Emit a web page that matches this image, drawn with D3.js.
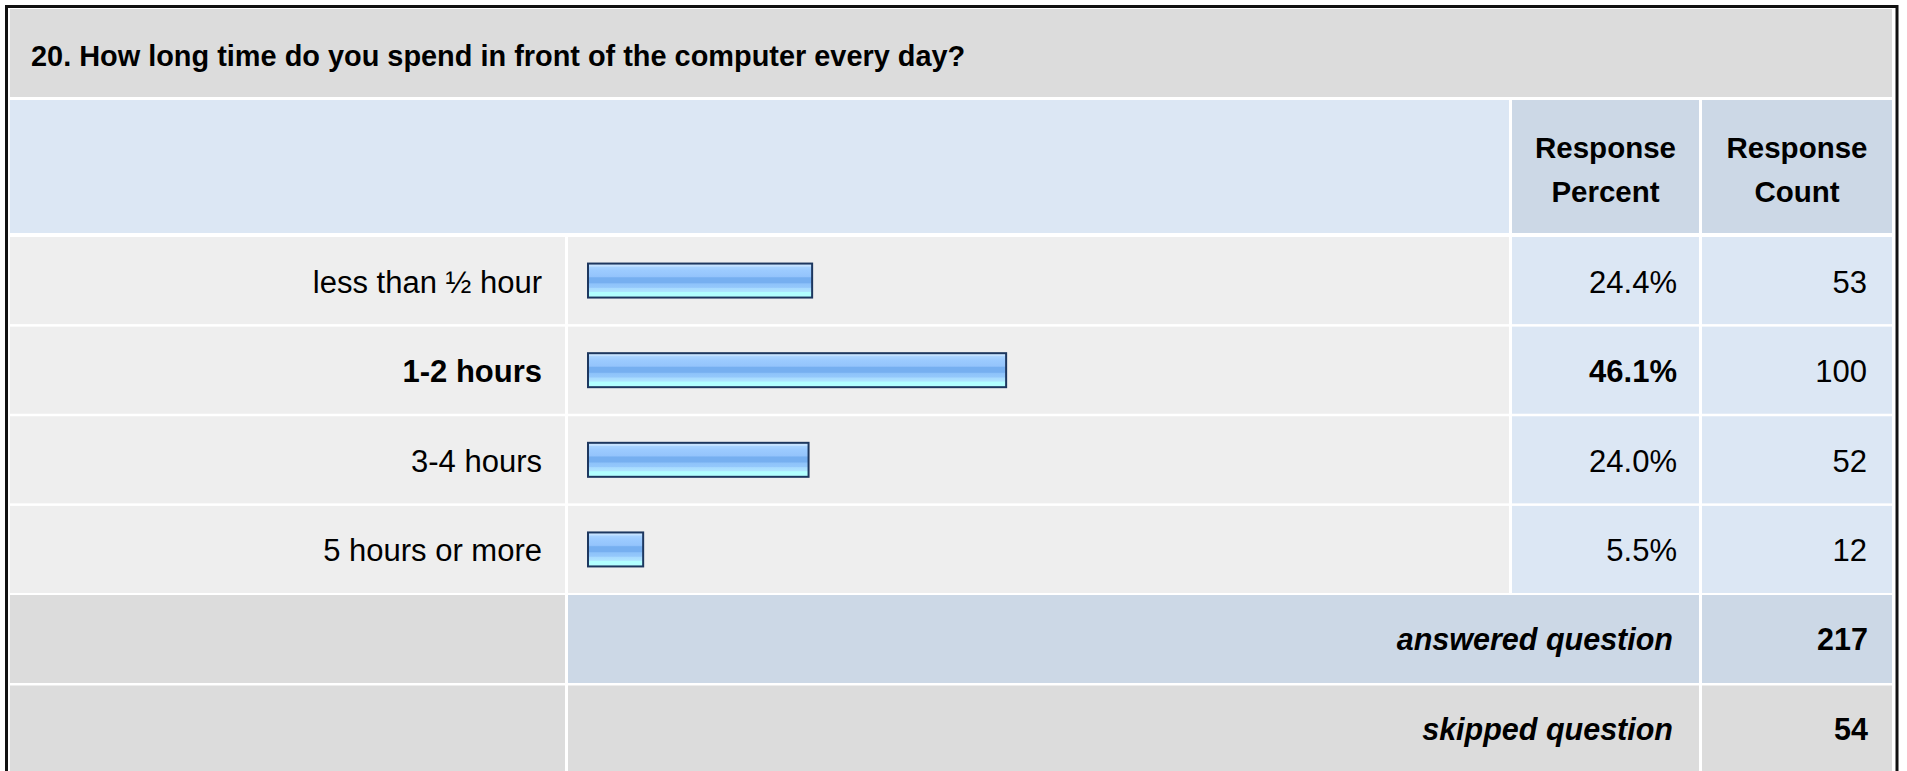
<!DOCTYPE html>
<html>
<head>
<meta charset="utf-8">
<script src="https://d3js.org/d3.v7.min.js"></script>
<style>
body { margin: 0; background: #ffffff; }
svg text { font-family: "Liberation Sans", Arial, sans-serif; fill: #000; }
</style>
</head>
<body>
<script>
var title = "20. How long time do you spend in front of the computer every day?";
var categories = ["less than ½ hour", "1-2 hours", "3-4 hours", "5 hours or more"];
var percents = [24.4, 46.1, 24.0, 5.5];
var counts = [53, 100, 52, 12];
var headerLines = [["Response", "Percent"], ["Response", "Count"]];
var footerLabels = ["answered question", "skipped question"];
var footerCounts = [217, 54];

var svgW = 1907;
var svgH = 771;
var fontSize = 31;

// columns (left, right)
var colLabel = [10, 565];
var colBar = [568, 1509];
var colPct = [1512, 1699];
var colCount = [1702, 1892];

var grey = "#dcdcdc";
var light = "#eeeeee";
var blue = "#dce7f4";
var blueGrey = "#ccd8e6";

var svg = d3.select("body")
    .append("svg")
    .attr("width", svgW)
    .attr("height", svgH);

//Gradient for the bars
var grad = svg.append("defs")
    .append("linearGradient")
    .attr("id", "barGrad")
    .attr("x1", 0).attr("y1", 0)
    .attr("x2", 0).attr("y2", 1);
var stops = [
    [0.00, "#cde8ff"], [0.08, "#c2e0ff"], [0.10, "#a8d3ff"], [0.20, "#9ccbff"],
    [0.38, "#94c4fc"], [0.42, "#76aff0"], [0.56, "#76aff0"], [0.60, "#8ec3fa"],
    [0.70, "#94c8fb"], [0.73, "#a8dbff"], [0.82, "#aee4ff"], [0.85, "#b2ffff"],
    [1.00, "#b2ffff"]
];
grad.selectAll("stop")
    .data(stops)
    .enter()
    .append("stop")
    .attr("offset", function(d) { return d[0]; })
    .attr("stop-color", function(d) { return d[1]; });

var cell = function(x0, x1, y0, y1, fill) {
    svg.append("rect")
	.attr("x", x0)
	.attr("y", y0)
	.attr("width", x1 - x0)
	.attr("height", y1 - y0)
	.attr("fill", fill);
};

var label = function(txt, x, y, anchor, weight, style, size) {
    svg.append("text")
	.attr("x", x)
	.attr("y", y)
	.attr("text-anchor", anchor)
	.attr("font-weight", weight || "normal")
	.attr("font-style", style || "normal")
	.attr("font-size", size || fontSize)
	.text(txt);
};

//Title band
cell(colLabel[0], colCount[1], 9, 97, grey);
label(title, 31, 66, "start", "bold", null, 28.9);

//Header row
cell(colLabel[0], colBar[1], 100, 233, blue);
[colPct, colCount].forEach(function(c, i) {
    cell(c[0], c[1], 100, 233, blueGrey);
    var mid = (c[0] + c[1]) / 2;
    label(headerLines[i][0], mid, 158, "middle", "bold", null, 29.5);
    label(headerLines[i][1], mid, 202, "middle", "bold", null, 29.5);
});

//Scales
var yScale = d3.scaleBand()
    .domain(categories)
    .range([237, 593])
    .paddingInner(0.028);

var xScale = d3.scaleLinear()
    .domain([0, 100])
    .range([0, 894]);

var maxPct = d3.max(percents);

var rows = categories.map(function(c, i) {
    return { cat: c, pct: percents[i], count: counts[i] };
});

//Data rows
rows.forEach(function(d) {
    var y0 = yScale(d.cat);
    var y1 = y0 + yScale.bandwidth();
    var mid = (y0 + y1) / 2;
    var bold = d.pct === maxPct ? "bold" : "normal";
    cell(colLabel[0], colLabel[1], y0, y1, light);
    cell(colBar[0], colBar[1], y0, y1, light);
    cell(colPct[0], colPct[1], y0, y1, blue);
    cell(colCount[0], colCount[1], y0, y1, blue);
    label(d.cat, colLabel[1] - 23, mid + 12, "end", bold);
    label(d.pct.toFixed(1) + "%", colPct[1] - 22, mid + 12, "end", bold);
    label(d.count, colCount[1] - 25, mid + 12, "end");
});

//Bars
svg.selectAll("rect.bar")
    .data(rows)
    .enter()
    .append("rect")
    .attr("class", "bar")
    .attr("x", colBar[0] + 20)
    .attr("y", function(d) { return yScale(d.cat) + yScale.bandwidth() / 2 - 17; })
    .attr("width", function(d) { return xScale(d.pct) + 6; })
    .attr("height", 34)
    .attr("fill", "url(#barGrad)")
    .attr("stroke", "#1d375f")
    .attr("stroke-width", 2);

//Footer rows
var footY = [[595, 683], [685.5, 775]];
footerLabels.forEach(function(t, i) {
    var y0 = footY[i][0], y1 = footY[i][1];
    var mid = (y0 + Math.min(y1, 773)) / 2;
    var fill = i === 0 ? blueGrey : grey;
    cell(colLabel[0], colLabel[1], y0, y1, grey);
    cell(colBar[0], colPct[1], y0, y1, fill);
    cell(colCount[0], colCount[1], y0, y1, fill);
    label(t, colPct[1] - 26, mid + 11, "end", "bold", "italic", 30.5);
    label(footerCounts[i], colCount[1] - 24, mid + 11, "end", "bold", null, 30.5);
});

//Outer border
svg.append("rect")
    .attr("x", 6.5)
    .attr("y", 6.5)
    .attr("width", 1890.5)
    .attr("height", 820)
    .attr("fill", "none")
    .attr("stroke", "#111")
    .attr("stroke-width", 3);
</script>
</body>
</html>
